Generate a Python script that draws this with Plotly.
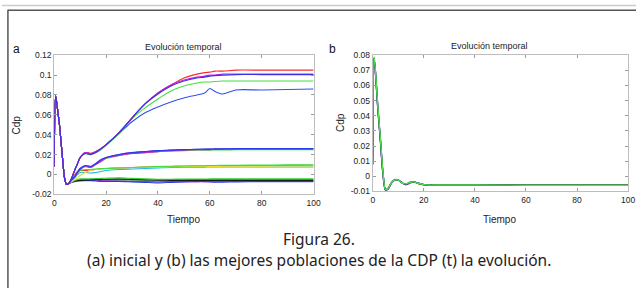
import plotly.graph_objects as go

# ---------------- data ----------------
# shared initial transient (panel a)
t_start = [0, 0.5, 1, 2, 3, 4, 4.7, 5.5]
cdp_start = [0.008, 0.079, 0.071, 0.050, 0.022, -0.004, -0.0098, -0.0095]

# tail time points (panel a)
t_tail = [6.5, 8, 9, 10, 12, 14, 16, 18, 20, 25, 30, 35, 40, 45, 50, 55, 58, 60, 62, 65, 70, 80, 90, 100]

a_red = [-0.005, 0.005, 0.011, 0.017, 0.022, 0.021, 0.023, 0.026, 0.030, 0.042, 0.057, 0.071, 0.082, 0.090, 0.097, 0.101, 0.1025, 0.103, 0.104, 0.104, 0.105, 0.105, 0.105, 0.105]
a_magenta = [-0.005, 0.005, 0.011, 0.017, 0.022, 0.021, 0.023, 0.026, 0.030, 0.042, 0.057, 0.071, 0.082, 0.090, 0.095, 0.098, 0.099, 0.100, 0.100, 0.101, 0.101, 0.101, 0.101, 0.101]
a_blue = [-0.005, 0.005, 0.011, 0.017, 0.021, 0.020, 0.022, 0.026, 0.030, 0.042, 0.057, 0.071, 0.081, 0.089, 0.094, 0.097, 0.098, 0.099, 0.0995, 0.100, 0.1005, 0.1005, 0.1005, 0.1005]
a_green = [-0.005, 0.005, 0.011, 0.017, 0.021, 0.020, 0.022, 0.025, 0.029, 0.041, 0.056, 0.067, 0.076, 0.084, 0.089, 0.092, 0.093, 0.093, 0.0935, 0.094, 0.094, 0.094, 0.094, 0.094]
a_blue_b = [-0.005, 0.005, 0.011, 0.017, 0.022, 0.021, 0.022, 0.025, 0.030, 0.041, 0.053, 0.062, 0.068, 0.073, 0.077, 0.080, 0.082, 0.0865, 0.0835, 0.081, 0.085, 0.085, 0.0855, 0.086]

a_blue_m = [-0.006, -0.002, 0.002, 0.006, 0.009, 0.008, 0.011, 0.015, 0.017, 0.020, 0.022, 0.023, 0.024, 0.0245, 0.025, 0.0253, 0.0255, 0.0255, 0.0257, 0.0258, 0.026, 0.026, 0.026, 0.026]
a_magenta_m = [-0.006, -0.002, 0.002, 0.005, 0.008, 0.007, 0.010, 0.013, 0.0165, 0.019, 0.021, 0.022, 0.023, 0.024, 0.0245, 0.025, 0.025, 0.025, 0.0252, 0.0253, 0.0255, 0.0256, 0.0256, 0.0256]
a_purple_m = [-0.006, -0.002, 0.003, 0.006, 0.009, 0.008, 0.011, 0.014, 0.017, 0.020, 0.022, 0.023, 0.024, 0.0245, 0.025, 0.0252, 0.0254, 0.0255, 0.0256, 0.0257, 0.0258, 0.026, 0.026, 0.026]
a_green_m = [-0.006, -0.002, 0.002, 0.005, 0.008, 0.007, 0.010, 0.013, 0.016, 0.019, 0.021, 0.022, 0.023, 0.0235, 0.024, 0.0243, 0.0245, 0.0245, 0.0246, 0.0247, 0.0248, 0.025, 0.025, 0.025]

a_yellow = [-0.008, -0.005, -0.003, -0.001, 0.002, 0.004, 0.005, 0.0055, 0.006, 0.0065, 0.007, 0.0072, 0.0075, 0.0077, 0.008, 0.008, 0.008, 0.008, 0.008, 0.0082, 0.0083, 0.0084, 0.0085, 0.0085]
a_green_l = [-0.006, -0.001, 0.002, 0.004, 0.005, 0.005, 0.0055, 0.006, 0.006, 0.0065, 0.007, 0.0075, 0.008, 0.0082, 0.0085, 0.0087, 0.0088, 0.009, 0.009, 0.0092, 0.0093, 0.0095, 0.0096, 0.0097]
a_red_l = [-0.006, 0.000, 0.003, 0.004, 0.004, 0.0045, 0.005, 0.0055, 0.006, 0.0065, 0.007, 0.0075, 0.0078, 0.008, 0.0082, 0.0084, 0.0085, 0.0086, 0.0087, 0.0088, 0.009, 0.009, 0.0091, 0.0092]
a_cyan = [-0.007, -0.003, 0.000, 0.002, 0.002, 0.0015, 0.002, 0.003, 0.004, 0.005, 0.0055, 0.006, 0.0065, 0.007, 0.0072, 0.0073, 0.0074, 0.0075, 0.0075, 0.0075, 0.0075, 0.0075, 0.0075, 0.0075]

a_green_n = [-0.007, -0.006, -0.005, -0.0045, -0.0045, -0.0045, -0.0042, -0.004, -0.0038, -0.0035, -0.004, -0.0045, -0.0048, -0.0048, -0.0047, -0.0046, -0.0046, -0.0045, -0.0045, -0.0045, -0.0045, -0.0045, -0.0045, -0.0045]
a_black = [-0.008, -0.0065, -0.006, -0.006, -0.0058, -0.0055, -0.005, -0.005, -0.0048, -0.0045, -0.005, -0.0055, -0.0058, -0.006, -0.006, -0.006, -0.006, -0.006, -0.006, -0.006, -0.006, -0.006, -0.006, -0.006]
a_blue_n = [-0.008, -0.007, -0.0065, -0.006, -0.006, -0.0062, -0.0065, -0.007, -0.007, -0.007, -0.0075, -0.008, -0.0085, -0.008, -0.0075, -0.0072, -0.0072, -0.0075, -0.0078, -0.0078, -0.0075, -0.0072, -0.0072, -0.0072]
a_magenta_n = [-0.008, -0.0072, -0.0068, -0.0065, -0.0062, -0.006, -0.006, -0.0062, -0.0065, -0.0068, -0.007, -0.0072, -0.0073, -0.0072, -0.0072, -0.0072, -0.0072, -0.0072, -0.0072, -0.0071, -0.0071, -0.007, -0.007, -0.007]
a_dkgreen_n = [-0.0075, -0.0062, -0.0058, -0.0055, -0.0052, -0.005, -0.005, -0.0052, -0.0055, -0.0055, -0.0055, -0.0055, -0.0055, -0.0055, -0.0054, -0.0053, -0.0053, -0.0053, -0.0053, -0.0053, -0.0053, -0.0053, -0.0053, -0.0053]

# panel b
t_b = [0, 0.5, 1, 2, 3, 4, 5, 6, 7, 8, 9, 10, 11, 12, 13, 14, 15, 16, 17, 18, 20, 22, 25, 30, 40, 60, 80, 100]
b_magenta = [0.008, 0.078, 0.070, 0.045, 0.024, 0.002, -0.0092, -0.0085, -0.0055, -0.0033, -0.0024, -0.0024, -0.0035, -0.0048, -0.0056, -0.005, -0.0042, -0.0038, -0.004, -0.0046, -0.0056, -0.006, -0.006, -0.0059, -0.0059, -0.006, -0.006, -0.006]
b_blue = [0.008, 0.078, 0.070, 0.045, 0.024, 0.002, -0.009, -0.0082, -0.0052, -0.003, -0.0022, -0.0025, -0.0037, -0.0049, -0.0053, -0.0046, -0.0039, -0.0037, -0.0042, -0.0048, -0.0055, -0.0058, -0.0058, -0.0058, -0.0059, -0.0059, -0.0059, -0.0059]
b_black = [0.008, 0.078, 0.070, 0.045, 0.024, 0.002, -0.0088, -0.008, -0.005, -0.003, -0.0021, -0.0025, -0.0038, -0.0049, -0.0052, -0.0045, -0.0038, -0.0037, -0.0042, -0.0048, -0.0055, -0.0057, -0.0058, -0.0058, -0.0058, -0.0058, -0.0058, -0.0058]
b_green = [0.008, 0.079, 0.071, 0.046, 0.025, 0.003, -0.0088, -0.008, -0.005, -0.003, -0.0022, -0.0025, -0.0038, -0.0048, -0.005, -0.0045, -0.0038, -0.0037, -0.0042, -0.0048, -0.0055, -0.0058, -0.0058, -0.0058, -0.0058, -0.0059, -0.0059, -0.0059]

# ticks
a_yticks = [-0.02, 0, 0.02, 0.04, 0.06, 0.08, 0.1, 0.12]
a_yticklabels = ["-0.02", "0", "0.02", "0.04", "0.06", "0.08", "0.1", "0.12"]
b_yticks = [-0.01, 0, 0.01, 0.02, 0.03, 0.04, 0.05, 0.06, 0.07, 0.08]
b_yticklabels = ["-0.01", "0", "0.01", "0.02", "0.03", "0.04", "0.05", "0.06", "0.07", "0.08"]
xticks = [0, 20, 40, 60, 80, 100]
xticklabels = ["0", "20", "40", "60", "80", "100"]

panel_title = "Evolución temporal"
x_label = "Tiempo"
y_label = "Cdp"
caption_1 = "Figura 26."
caption_2 = "(a) inicial y (b) las mejores poblaciones de la CDP (t) la evolución."

# ---------------- figure ----------------
W, H = 643, 293
def px(x): return x / W
def py(y): return 1 - y / H

fig = go.Figure()

a_series = [
    (a_dkgreen_n, "#0a7a0a"), (a_magenta_n, "#c020e0"), (a_blue_n, "#2a3cf0"),
    (a_black, "#1a1a1a"), (a_green_n, "#30d030"),
    (a_cyan, "#20b8e8"), (a_red_l, "#f03030"), (a_yellow, "#e8e020"), (a_green_l, "#40e040"),
    (a_green_m, "#40d840"), (a_magenta_m, "#d020d0"), (a_purple_m, "#8a2ae0"), (a_blue_m, "#2a3cf0"),
    (a_blue_b, "#3050f0"), (a_green, "#40e040"), (a_red, "#ff2a2a"), (a_magenta, "#c020e0"), (a_blue, "#3a30e8"),
]
for vals, col in a_series:
    fig.add_trace(go.Scatter(x=t_start + t_tail, y=cdp_start + vals, mode="lines",
                             line=dict(color=col, width=1.1, shape="spline", smoothing=0.8),
                             xaxis="x", yaxis="y", showlegend=False, hoverinfo="skip"))

b_series = [(b_magenta, "#c020e0"), (b_blue, "#2a3cf0"), (b_black, "#1a3a1a"), (b_green, "#50e050")]
for vals, col in b_series:
    fig.add_trace(go.Scatter(x=t_b, y=vals, mode="lines",
                             line=dict(color=col, width=1.4, shape="spline", smoothing=0.8),
                             xaxis="x2", yaxis="y2", showlegend=False, hoverinfo="skip"))

chart_font = "Liberation Sans, Arial, sans-serif"
axis_common = dict(showgrid=False, zeroline=False, showline=True, linecolor="#bdbdbd", linewidth=1,
                   mirror="ticks", ticks="inside", ticklen=3, tickcolor="#9a9a9a",
                   tickfont=dict(family=chart_font, size=8.5, color="#222"))

fig.update_layout(
    width=W, height=H, margin=dict(l=0, r=0, t=0, b=0),
    paper_bgcolor="white", plot_bgcolor="white",
    xaxis=dict(domain=[px(53), px(316)], range=[0, 100], tickvals=xticks, ticktext=xticklabels,
               anchor="y", **axis_common),
    yaxis=dict(domain=[py(196), py(52)], range=[-0.02, 0.12], tickvals=a_yticks, ticktext=a_yticklabels,
               anchor="x", **axis_common),
    xaxis2=dict(domain=[px(376), px(635)], range=[0, 100], tickvals=xticks, ticktext=xticklabels,
                anchor="y2", **axis_common),
    yaxis2=dict(domain=[py(193), py(52)], range=[-0.01, 0.08], tickvals=b_yticks, ticktext=b_yticklabels,
                anchor="x2", **axis_common),
)

ann = []
def add_text(text, x, y, size, family=chart_font, color="#222", angle=0):
    ann.append(dict(text=text, x=px(x), y=py(y), xref="paper", yref="paper", showarrow=False,
                    xanchor="center", yanchor="middle", textangle=angle,
                    font=dict(family=family, size=size, color=color)))

add_text(panel_title, 184.5, 43, 9)
add_text(panel_title, 494, 42, 9)
add_text("a", 15, 46, 12, color="#111")
add_text("b", 335, 46, 12, color="#111")
add_text(y_label, 15, 124, 10, angle=-90)
add_text(y_label, 344, 122, 10, angle=-90)
add_text(x_label, 184.5, 222, 10)
add_text(x_label, 505, 222, 10)
add_text(caption_1, 321.5, 242, 15.5, family="Noto Sans, Open Sans, sans-serif", color="#222")
add_text(caption_2, 321.5, 264, 15.5, family="Noto Sans, Open Sans, sans-serif", color="#222")
fig.update_layout(annotations=ann)

shapes = [
    dict(type="line", xref="paper", yref="paper", x0=0, x1=1, y0=py(0.5), y1=py(0.5),
         line=dict(color="#cccccc", width=1.5)),
    dict(type="line", xref="paper", yref="paper", x0=px(6), x1=1, y0=py(5.5), y1=py(5.5),
         line=dict(color="#555555", width=1.5)),
    dict(type="line", xref="paper", yref="paper", x0=px(6), x1=px(6), y0=py(5), y1=0,
         line=dict(color="#555555", width=1.5)),
]
fig.update_layout(shapes=shapes)

fig.write_html("out.html", config={"displayModeBar": False},
               post_script="document.body.style.margin='0';document.body.style.overflow='hidden';")
